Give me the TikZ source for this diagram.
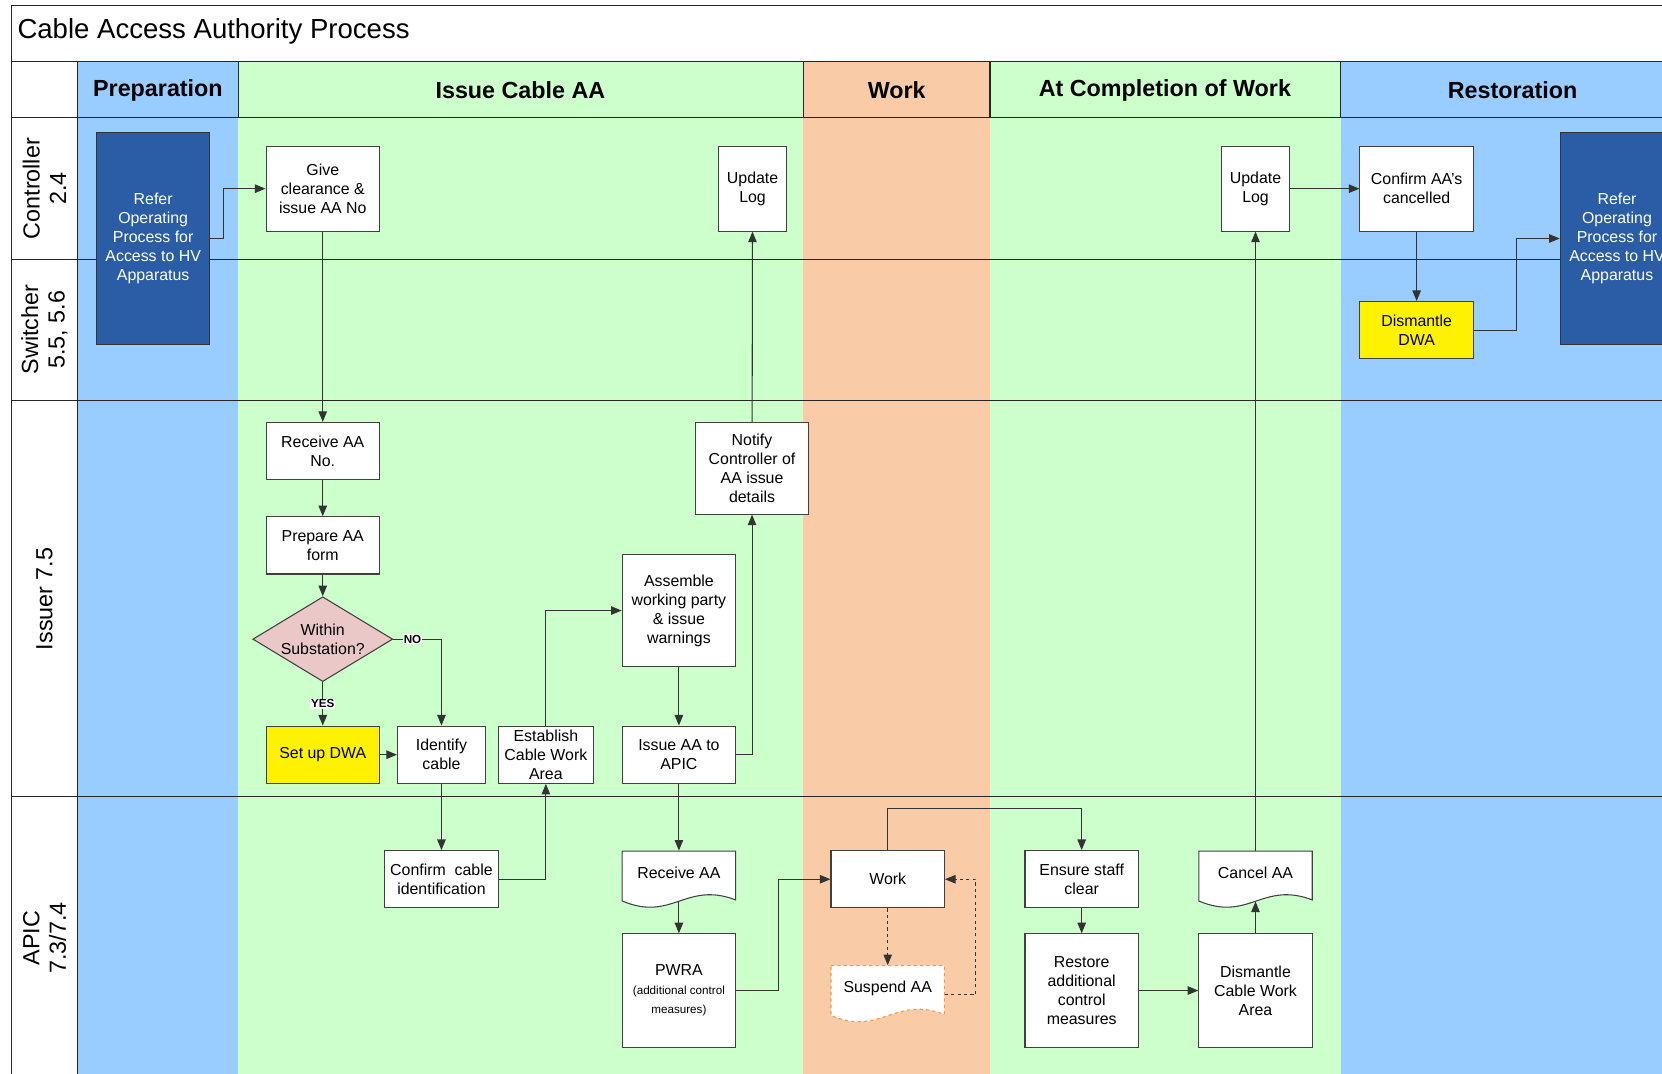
\documentclass[tikz,border=0pt]{standalone}
\usepackage{fontspec}
\setmainfont{Liberation Sans}
\usetikzlibrary{positioning}
\usetikzlibrary{arrows.meta}
\usetikzlibrary{shapes,shapes.geometric}
\usetikzlibrary{calc}

\definecolor{laneblue}{HTML}{99CCFF}
\definecolor{lanegreen}{HTML}{CCFFCC}
\definecolor{lanepeach}{HTML}{F9CBA6}
\definecolor{referblue}{HTML}{2A5DA6}
\definecolor{decisionpink}{HTML}{EAC8C8}
\definecolor{suspendorange}{HTML}{F79646}
\newcommand\notefont{\fontsize{11}{13}\selectfont}
% document outline, top left corner at (#2,#3)
\newcommand\docoutline[3][]{\draw[docline,#1] (#2,#3) -- ++(107,0) -- ++(0,-46) .. controls +(-47,18) and +(47,-20) .. (#2,#3-47) -- cycle;}

\begin{document}
\begin{tikzpicture}[x=1pt,y=1pt]
\tikzset{activity/.style={rectangle, draw=black!75, line width=1pt, fill=white, minimum width=107pt, minimum height=54pt, inner sep=1pt, align=center, font=\fontsize{15}{18}\selectfont}}
\tikzset{refer/.style={activity, draw=black!80, fill=referblue, text=white, minimum height=200pt}}
\tikzset{dwa/.style={activity, fill=yellow}}
\tikzset{decision/.style={diamond, draw=black!75, line width=1pt, fill=decisionpink, minimum width=132pt, minimum height=80pt, inner sep=0pt}}
\tikzset{document/.style={activity, draw=none, fill=none, minimum height=47pt, text height=11pt, text depth=7pt}}
\tikzset{docline/.style={draw=black!75, line width=1pt, fill=white}}
\tikzset{flow/.style={draw=black!80, line width=1pt, -{Triangle[length=10pt,width=8pt]}}}
\tikzset{answer/.style={fill=white, inner sep=1pt, font=\fontsize{11}{13}\selectfont\bfseries}}
\tikzset{phase/.style={font=\fontsize{22}{26}\selectfont\bfseries}}
\tikzset{role/.style={rotate=90, align=center, font=\fontsize{22}{25}\selectfont}}
\useasboundingbox (0,0) rectangle (1568,-1013);
\clip (0,0) rectangle (1568,-1013);
% lanes and phases
\fill[white] (0,0) rectangle (1568,-1013);
\fill[laneblue] (73,-58) rectangle (225,-1013);
\fill[lanegreen] (225,-58) rectangle (758,-1013);
\fill[lanepeach] (758,-58) rectangle (934,-1013);
\fill[lanegreen] (934,-58) rectangle (1265,-1013);
\fill[laneblue] (1265,-58) rectangle (1600,-1013);
\draw[black!85, line width=1pt] (11,-1013) -- (11,-5) -- (1600,-5);
\foreach \y in {58,111,245,378,751} \draw[black!85, line width=1pt] (11,-\y) -- (1600,-\y);
\draw[black!85, line width=1pt] (73,-58) -- (73,-1013);
\foreach \x in {225,758,934,1265} \draw[black!85, line width=1pt] (\x,-58) -- (\x,-111);
\node[anchor=west, font=\fontsize{26}{30}\selectfont] (title) at (13,-30) {Cable Access Authority Process};
\node[phase] (hprep) at (149,-85) {Preparation};
\node[phase] (hissue) at (491,-85) {Issue Cable AA};
\node[phase] (hwork) at (846,-85) {Work};
\node[phase] (hcompl) at (1099,-85) {At Completion of Work};
\node[phase] (hrest) at (1427,-85) {Restoration};
\node[role] (rcontr) at (42,-178) {Controller\\2.4};
\node[role] (rswitch) at (42,-311) {Switcher\\5.5, 5.6};
\node[role] (rissuer) at (42,-565) {Issuer 7.5};
\node[role] (rapic) at (42,-885) {APIC\\7.3/7.4};
% steps
\node[refer] (refer1) at (144.5,-225) {Refer\\Operating\\Process for\\Access to HV\\Apparatus};
\node[activity, minimum height=80pt] (give) at (304.5,-178) {Give\\clearance \&\\issue AA No};
\node[activity, minimum width=64pt, minimum height=80pt] (log1) at (710,-178) {Update\\Log};
\node[activity, minimum width=64pt, minimum height=80pt] (log2) at (1184.5,-178) {Update\\Log};
\node[activity, minimum height=80pt] (cancelled) at (1336.5,-178) {Confirm AA’s\\cancelled};
\node[refer] (refer2) at (1525.5,-225) {Refer\\Operating\\Process for\\Access to HV\\Apparatus};
\node[dwa] (dismdwa) at (1336.5,-311.5) {Dismantle\\DWA};
\node[activity] (recvno) at (304.5,-425.5) {Receive AA\\No.};
\node[activity] (prep) at (304.5,-514.5) {Prepare AA\\form};
\node[decision, label={[align=center, font=\fontsize{15}{18}\selectfont]center:Within\\Substation?}] (within) at (304.5,-603) {};
\node[dwa] (setup) at (304.5,-712) {Set up DWA};
\node[activity, minimum width=83pt] (identify) at (416.5,-712) {Identify\\cable};
\node[activity, minimum width=90pt] (establish) at (515,-712) {Establish\\Cable Work\\Area};
\node[activity, minimum height=106pt] (assemble) at (640.5,-576) {Assemble\\working party\\\& issue\\warnings};
\node[activity, minimum height=86pt] (notify) at (709.5,-442) {Notify\\Controller of\\AA issue\\details};
\node[activity] (issueaa) at (640.5,-712) {Issue AA to\\APIC};
\node[activity] (confcable) at (416.5,-829.5) {Confirm\ \ cable\\identification};
\docoutline{587}{-803}
\node[document] (recvaa) at (640.5,-826.5) {Receive AA};
\node[activity, minimum height=107pt] (pwra) at (640.5,-934.5) {PWRA\\\notefont(additional control\\\notefont measures)};
\node[activity] (work) at (837.5,-829.5) {Work};
\docoutline[draw=suspendorange, dashed]{784}{-911}
\node[document] (suspend) at (837.5,-934.5) {Suspend AA};
\node[activity] (ensure) at (1020.5,-829.5) {Ensure staff\\clear};
\node[activity, minimum height=107pt] (restore) at (1020.5,-934.5) {Restore\\additional\\control\\measures};
\docoutline{1131}{-803}
\node[document] (cancelaa) at (1184.5,-826.5) {Cancel AA};
\node[activity, minimum height=107pt] (dismcwa) at (1184.5,-934.5) {Dismantle\\Cable Work\\Area};
% connectors
\draw[flow] (refer1.east) -- ++(12,0) |- (give.west);
\draw[flow] (give) -- (recvno);
\draw[flow] (recvno) -- (prep);
\draw[flow] (prep) -- (within);
\draw[flow] (within) -- node[answer] {YES} (setup);
\draw[flow] (within.east) -| node[answer, pos=0.2] {NO} (identify.north);
\draw[flow] (setup) -- (identify);
\draw[flow] (identify) -- (confcable);
\draw[flow] (confcable.east) -| (establish.south);
\draw[flow] (establish.north) |- (assemble.west);
\draw[flow] (assemble) -- (issueaa);
\draw[flow] (issueaa.east) -| (notify.south);
\draw[flow] (notify) -- (log1);
\draw[flow] (issueaa) -- (recvaa);
\draw[flow] (recvaa) -- (pwra);
\draw[flow] (pwra.east) -- ++(40,0) |- (work.west);
\draw[flow] (work.north) -- ++(0,39) -| (ensure.north);
\draw[flow, dashed] (work) -- (suspend);
\draw[flow, dashed] (suspend.east) ++(0,-4) -- ++(29,0) |- (work.east);
\draw[flow] (ensure) -- (restore);
\draw[flow] (restore) -- (dismcwa);
\draw[flow] (dismcwa) -- (cancelaa);
\draw[flow] (cancelaa) -- (log2);
\draw[flow] (log2) -- (cancelled);
\draw[flow] (cancelled) -- (dismdwa);
\draw[flow] (dismdwa.east) -- ++(40,0) |- (refer2.west);
\end{tikzpicture}
\end{document}
